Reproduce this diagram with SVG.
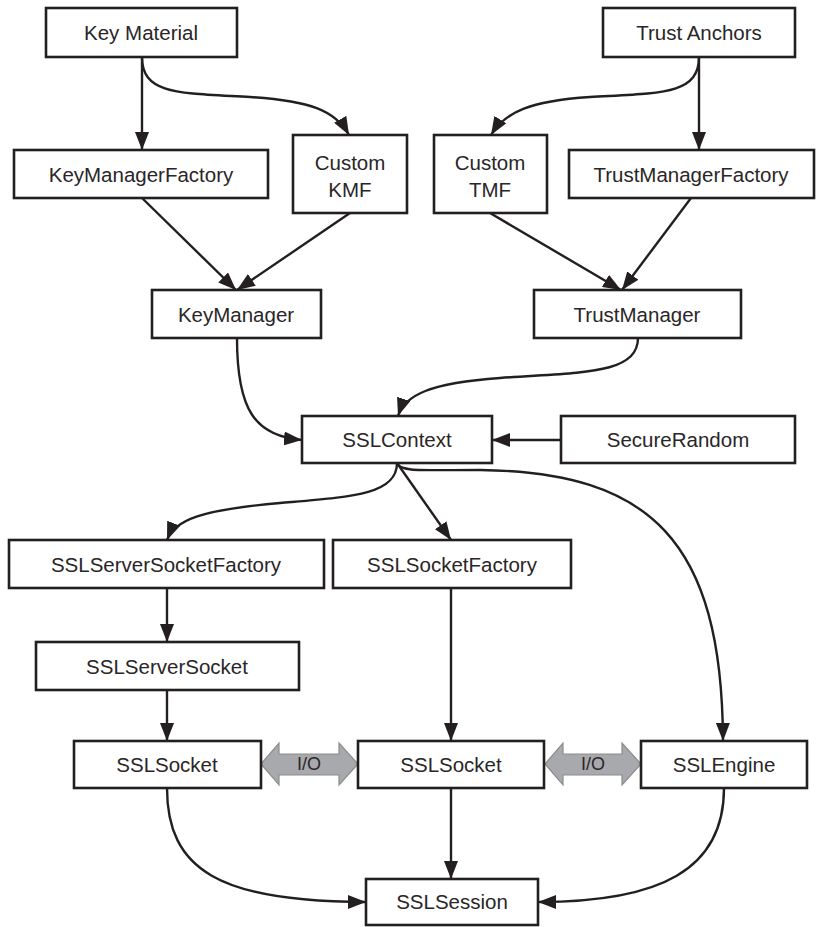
<svg xmlns="http://www.w3.org/2000/svg" width="816" height="927" viewBox="0 0 816 927">
<style>
.box{fill:#fff;stroke:#231f20;stroke-width:2.6}
.t{font-family:"Liberation Sans",Arial,sans-serif;font-size:20.5px;fill:#2a2627;text-anchor:middle}
.c{fill:none;stroke:#231f20;stroke-width:2.4;marker-end:url(#ah)}
.io{fill:#a7a9ac;stroke:#8c8c8c;stroke-width:1.2}
.iot{font-family:"Liberation Sans",Arial,sans-serif;font-size:18px;fill:#2a2627;text-anchor:middle}
</style>
<defs>
<marker id="ah" markerWidth="18" markerHeight="14" refX="18" refY="7" orient="auto" markerUnits="userSpaceOnUse">
<path d="M0,0 L18,7 L0,14 Z" fill="#231f20"/>
</marker>
</defs>
<rect width="816" height="927" fill="#fff"/>
<g id="connectors">
<path class="c" d="M142,57 L142,150"/>
<path class="c" d="M142,57 C142,95 180,93 250,97 C310,101 335,110 349,135"/>
<path class="c" d="M699,57 L699,150"/>
<path class="c" d="M699,57 C699,95 660,93 590,97 C530,101 505,112 491,135"/>
<path class="c" d="M142,198 L236,290"/>
<path class="c" d="M350,213 L237,290"/>
<path class="c" d="M490,213 L621,290"/>
<path class="c" d="M691,198 L622,290"/>
<path class="c" d="M237,338 C237,410 255,436 302,440"/>
<path class="c" d="M638,338 C638,375 580,372 500,378 C430,383 405,395 398,416"/>
<path class="c" d="M561,440 L492,440"/>
<path class="c" d="M397,463 C397,495 350,497 280,503 C200,510 175,520 167,540"/>
<path class="c" d="M397,463 L451,540"/>
<path class="c" d="M397,463 C400,472 420,470 480,470 C650,472 722,540 723,741"/>
<path class="c" d="M167,588 L167,642"/>
<path class="c" d="M167,690 L167,741"/>
<path class="c" d="M451,588 L451,741"/>
<path class="c" d="M451,788 L451,879"/>
<path class="c" d="M167,788 C167,870 220,902 366,902"/>
<path class="c" d="M724,788 C724,870 660,902 538,902"/>
</g>
<g id="io1">
<path class="io" d="M261,764 L279,743 L279,754 L339,754 L339,743 L358,764 L339,785 L339,775 L279,775 L279,785 Z"/>
<text class="iot" x="309" y="770">I/O</text>
</g>
<g id="io2">
<path class="io" d="M545,764 L563,743 L563,754 L622,754 L622,743 L641,764 L622,785 L622,775 L563,775 L563,785 Z"/>
<text class="iot" x="593" y="770">I/O</text>
</g>
<g id="keyMaterial"><rect class="box" x="46" y="8" width="191" height="49"/><text class="t" x="141" y="40">Key Material</text></g>
<g id="trustAnchors"><rect class="box" x="603" y="8" width="192" height="49"/><text class="t" x="699" y="40">Trust Anchors</text></g>
<g id="keyManagerFactory"><rect class="box" x="14" y="150" width="254" height="48"/><text class="t" x="141" y="182">KeyManagerFactory</text></g>
<g id="customKMF"><rect class="box" x="293" y="135" width="114" height="78"/><text class="t" x="350" y="170">Custom</text><text class="t" x="350" y="197">KMF</text></g>
<g id="customTMF"><rect class="box" x="434" y="135" width="113" height="78"/><text class="t" x="490" y="170">Custom</text><text class="t" x="490" y="197">TMF</text></g>
<g id="trustManagerFactory"><rect class="box" x="569" y="150" width="245" height="48"/><text class="t" x="691" y="182">TrustManagerFactory</text></g>
<g id="keyManager"><rect class="box" x="152" y="290" width="169" height="48"/><text class="t" x="236" y="322">KeyManager</text></g>
<g id="trustManager"><rect class="box" x="534" y="290" width="207" height="48"/><text class="t" x="637" y="322">TrustManager</text></g>
<g id="sslContext"><rect class="box" x="302" y="416" width="190" height="47"/><text class="t" x="397" y="447">SSLContext</text></g>
<g id="secureRandom"><rect class="box" x="561" y="416" width="234" height="47"/><text class="t" x="678" y="447">SecureRandom</text></g>
<g id="sslServerSocketFactory"><rect class="box" x="9" y="540" width="315" height="48"/><text class="t" x="166" y="572">SSLServerSocketFactory</text></g>
<g id="sslSocketFactory"><rect class="box" x="333" y="540" width="238" height="48"/><text class="t" x="452" y="572">SSLSocketFactory</text></g>
<g id="sslServerSocket"><rect class="box" x="36" y="642" width="263" height="48"/><text class="t" x="167" y="674">SSLServerSocket</text></g>
<g id="sslSocketLeft"><rect class="box" x="74" y="741" width="187" height="47"/><text class="t" x="167" y="772">SSLSocket</text></g>
<g id="sslSocketMid"><rect class="box" x="358" y="741" width="186" height="47"/><text class="t" x="451" y="772">SSLSocket</text></g>
<g id="sslEngine"><rect class="box" x="641" y="741" width="166" height="47"/><text class="t" x="724" y="772">SSLEngine</text></g>
<g id="sslSession"><rect class="box" x="366" y="879" width="172" height="46"/><text class="t" x="452" y="909">SSLSession</text></g>
</svg>
